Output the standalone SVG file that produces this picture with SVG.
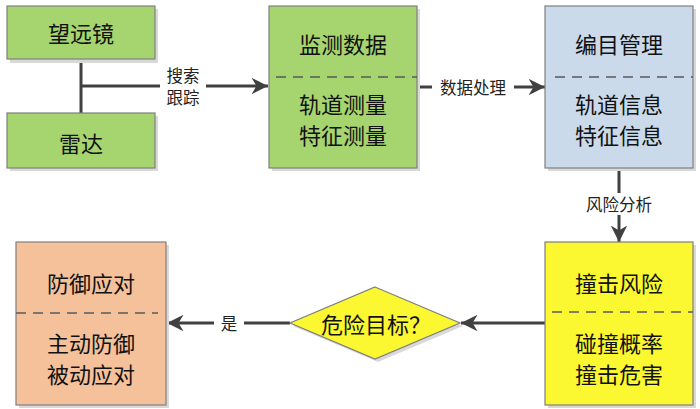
<svg xmlns="http://www.w3.org/2000/svg" width="700" height="409" viewBox="0 0 700 409">
<defs>
<style>
.box{stroke:#7f7f7f;stroke-width:1.2}
.sh{fill:#d9d9d9}
.dash{stroke:#595959;stroke-width:1.5;stroke-dasharray:10,7;fill:none}
.t{font-family:"Noto Sans CJK SC",sans-serif;font-size:22px;fill:#111;text-anchor:middle;dominant-baseline:central}
.l{font-family:"Noto Sans CJK SC",sans-serif;font-size:16.5px;fill:#222;text-anchor:middle;dominant-baseline:central}
.c{stroke:#404040;stroke-width:3;fill:none}
</style>
<marker id="ah" viewBox="0 0 10 10" refX="10" refY="5" markerWidth="5.5" markerHeight="5.5" orient="auto" markerUnits="strokeWidth">
<path d="M0,0 L10,5 L0,10 L3,5 Z" fill="#404040"/>
</marker>
</defs>
<rect width="700" height="409" fill="#fff"/>
<g id="connectors">
<path class="c" d="M81,59 V113"/>
<path class="c" d="M81,86 H268" marker-end="url(#ah)"/>
<rect x="160" y="64" width="46" height="44" fill="#fff"/>
<text class="l" x="183" y="75">搜索</text>
<text class="l" x="183" y="97">跟踪</text>
<path class="c" d="M417,87 H545" marker-end="url(#ah)"/>
<rect x="432" y="76" width="82" height="22" fill="#fff"/>
<text class="l" x="473" y="87">数据处理</text>
<path class="c" d="M619,168 V242" marker-end="url(#ah)"/>
<rect x="578" y="193" width="82" height="22" fill="#fff"/>
<text class="l" x="619" y="204">风险分析</text>
<path class="c" d="M545,323 H461" marker-end="url(#ah)"/>
<path class="c" d="M290,323 H167" marker-end="url(#ah)"/>
<rect x="214" y="312" width="30" height="22" fill="#fff"/>
<text class="l" x="229" y="323">是</text>
</g>
<g id="telescope">
<rect class="sh" x="10" y="9" width="148" height="54"/>
<rect class="box" x="7" y="6" width="148" height="53" fill="#a6d46e"/>
<text class="t" x="81" y="32">望远镜</text>
</g>
<g id="radar">
<rect class="sh" x="10" y="116" width="148" height="55"/>
<rect class="box" x="7" y="113" width="148" height="55" fill="#a6d46e"/>
<text class="t" x="81" y="142">雷达</text>
</g>
<g id="monitor">
<rect class="sh" x="272" y="9" width="148" height="162"/>
<rect class="box" x="269" y="6" width="148" height="162" fill="#a6d46e"/>
<path class="dash" d="M276,77 H417"/>
<text class="t" x="343" y="43">监测数据</text>
<text class="t" x="343" y="103">轨道测量</text>
<text class="t" x="343" y="134">特征测量</text>
</g>
<g id="catalog">
<rect class="sh" x="548" y="9" width="148" height="162"/>
<rect class="box" x="545" y="6" width="148" height="162" fill="#cbdaea"/>
<path class="dash" d="M555,77 H693"/>
<text class="t" x="619" y="43">编目管理</text>
<text class="t" x="619" y="103">轨道信息</text>
<text class="t" x="619" y="134">特征信息</text>
</g>
<g id="risk">
<rect class="sh" x="548" y="245" width="148" height="163"/>
<rect class="box" x="545" y="242" width="148" height="163" fill="#fbf731"/>
<path class="dash" d="M552,312 H693"/>
<text class="t" x="619" y="282">撞击风险</text>
<text class="t" x="619" y="342">碰撞概率</text>
<text class="t" x="619" y="373">撞击危害</text>
</g>
<g id="decision">
<polygon class="sh" points="378,290 463,326 378,362 293,326"/>
<polygon class="box" points="375,287 460,323 375,359 290,323" fill="#fbf731"/>
<text class="t" x="376" y="323">危险目标？</text>
</g>
<g id="defense">
<rect class="sh" x="19" y="245" width="150" height="163"/>
<rect class="box" x="16" y="242" width="150" height="163" fill="#f4c19b"/>
<path class="dash" d="M16,313 H158"/>
<text class="t" x="91" y="282">防御应对</text>
<text class="t" x="91" y="342">主动防御</text>
<text class="t" x="91" y="373">被动应对</text>
</g>
</svg>
